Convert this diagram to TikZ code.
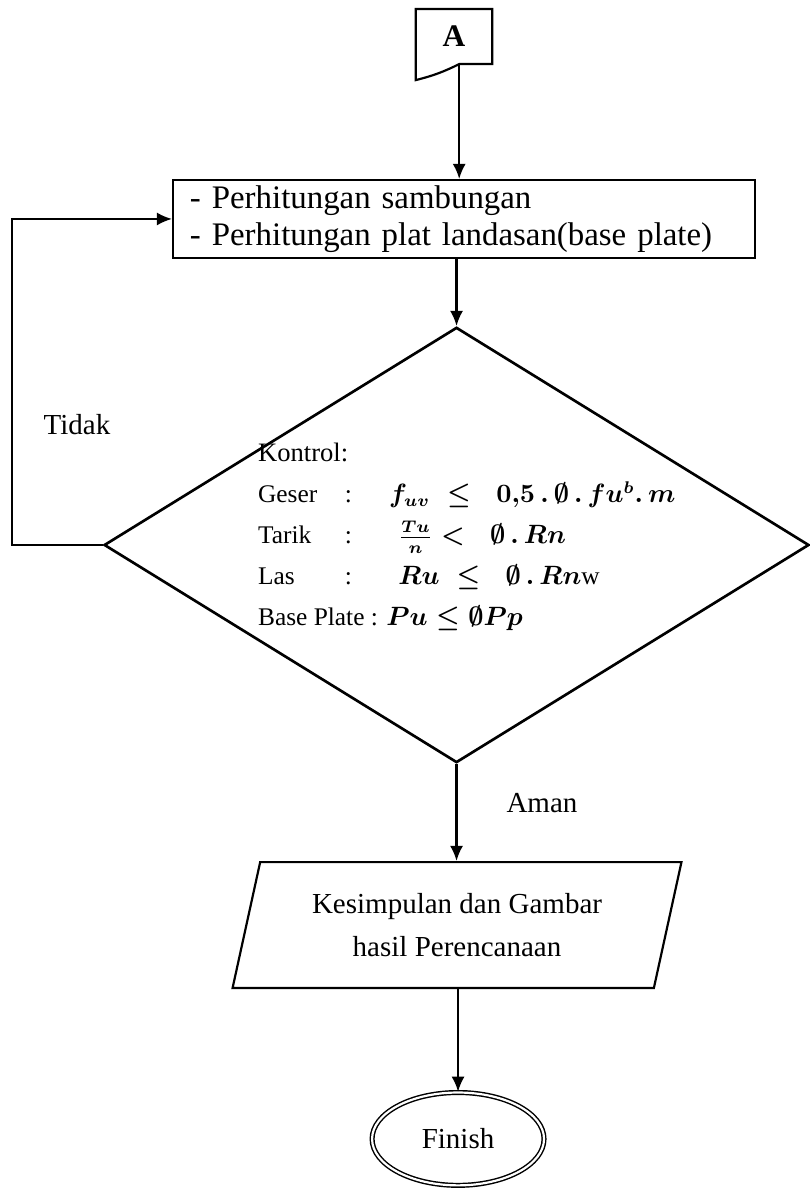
\documentclass[tikz,border=0pt]{standalone}
\usepackage{fontspec}
\setmainfont{Liberation Serif}
\usetikzlibrary{shapes.geometric,arrows.meta}

\begin{document}
\begin{tikzpicture}[
line width=0.9pt,
every node/.style={
font=\fontsize{12}{18}\selectfont
},
proses/.style={
draw,
rectangle,
minimum width=8.46cm,
minimum height=1.13cm,
text width=7.97cm,
inner xsep=0.245cm,
inner ysep=0pt,
align=left,
font=\fontsize{13.6}{15.5}\selectfont
},
keputusan/.style={
draw,
diamond,
minimum width=10.25cm,
minimum height=6.33cm,
line width=1.1pt
},
keluaran/.style={
draw,
trapezium,
trapezium left angle=75,
trapezium right angle=105,
trapezium stretches=true,
minimum width=6.54cm,
minimum height=1.83cm,
align=center
},
akhir/.style={
draw,
ellipse,
double,
line width=0.6pt,
double distance=0.9pt,
minimum width=2.5cm,
minimum height=1.35cm
},
konektor/.style={
minimum width=1.08cm,
minimum height=0.77cm,
inner sep=0pt
},
panah/.style={
-{Latex[length=0.22cm,width=0.19cm]}
}
]

\useasboundingbox (0,0) rectangle (11.763,-17.288);

\node[konektor] (A) at (6.601,-0.531)
{\fontsize{13}{15}\selectfont\textbf{A}};

\draw (A.north west) -- (A.north east) -- (A.south east)
-- ++(-0.48,0) coordinate (Aout)
to[bend left=6] ([yshift=-0.233cm]A.south west) -- cycle;

\node[proses] (hitung) at (6.747,-3.184)
{- Perhitungan sambungan\\
- Perhitungan plat landasan(base plate)};

\node[keputusan] (kontrol) at (6.638,-7.924) {};

\node[anchor=north west, inner sep=0pt, align=left,
font=\fontsize{10.5}{17}\selectfont\boldmath] (syarat) at (3.737,-6.427)
{{\fontsize{11}{17}\selectfont Kontrol:}\\
\makebox[1.26cm][l]{Geser}\makebox[0.645cm][l]{:}$f_{uv}\;\le\;\;0{,}5\,.\,\emptyset\,.\,fu^{b}.\,m$\\
\makebox[1.26cm][l]{Tarik}\makebox[0.78cm][l]{:}$\frac{Tu}{n}<\;\;\emptyset\,.\,Rn$\\
\makebox[1.26cm][l]{Las}\makebox[0.78cm][l]{:}$Ru\;\le\;\;\emptyset\,.\,Rn$w\\
Base Plate : $Pu\le\emptyset Pp$};

\node (tidak) at (1.12,-6.18)
{Tidak};

\node (aman) at (7.88,-11.68)
{Aman};

\node[keluaran] (hasil) at (6.645,-13.45)
{Kesimpulan dan Gambar\\
hasil Perencanaan};

\node[akhir] (finish) at (6.66,-16.56)
{Finish};

\coordinate (balik) at (0.174,0);

\draw[panah] (Aout) -- (Aout |- hitung.north);
\draw[panah] (kontrol.north |- hitung.south) -- (kontrol.north);
\draw[panah] (kontrol.south) -- (kontrol.south |- hasil.north);
\draw[panah] (finish.north |- hasil.south) -- (finish.north);

\draw[panah] (kontrol.west) -- (balik |- kontrol.west) |- (hitung.west);

\end{tikzpicture}
\end{document}
